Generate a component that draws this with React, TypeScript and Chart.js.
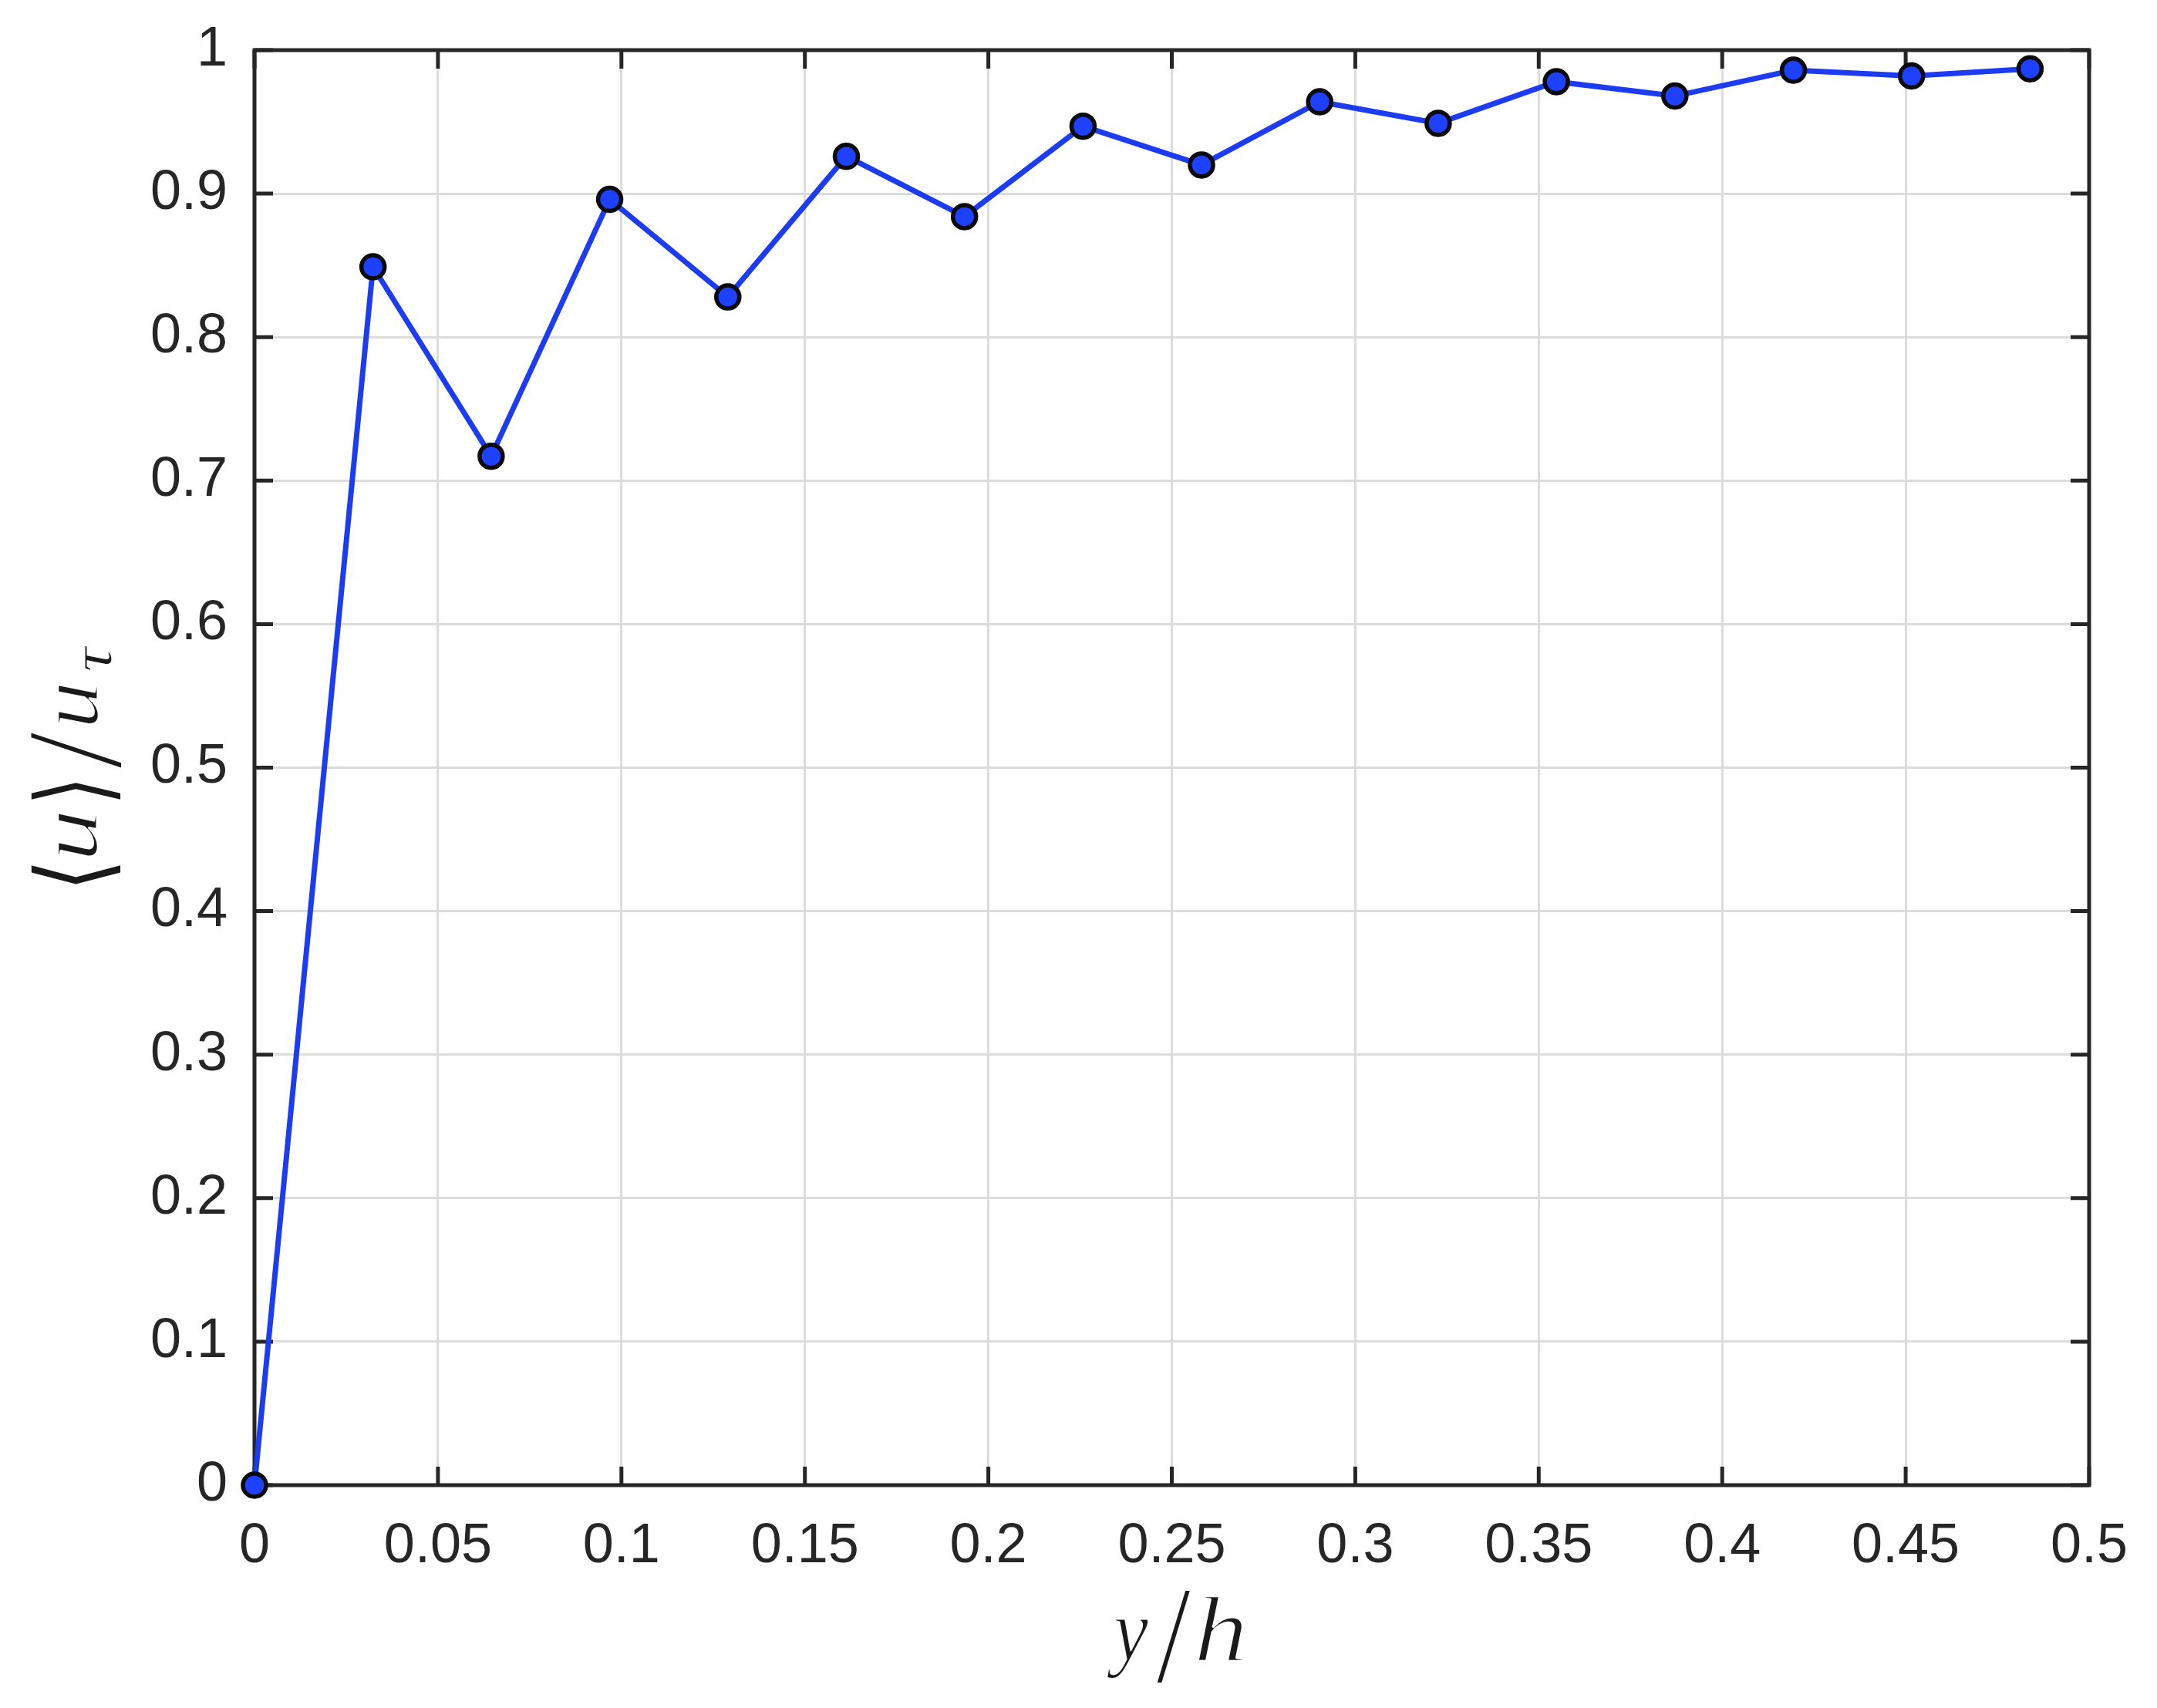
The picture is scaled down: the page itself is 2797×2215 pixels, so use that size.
import React, { useEffect, useRef } from "react";
import { Chart, registerables } from "chart.js";

Chart.register(...registerables);

// ---- data ----
const xValues = [0, 0.0323, 0.0645, 0.0968, 0.129, 0.1613, 0.1935, 0.2258, 0.2581, 0.2903, 0.3226, 0.3548, 0.3871, 0.4194, 0.4516, 0.4839];
const yValues = [0, 0.849, 0.717, 0.896, 0.828, 0.926, 0.884, 0.947, 0.92, 0.964, 0.949, 0.978, 0.968, 0.986, 0.982, 0.987];
const xTicks = [0, 0.05, 0.1, 0.15, 0.2, 0.25, 0.3, 0.35, 0.4, 0.45, 0.5];
const yTicks = [0, 0.1, 0.2, 0.3, 0.4, 0.5, 0.6, 0.7, 0.8, 0.9, 1];

const W = 2797;
const H = 2215;
const AXIS = "#262626";
const LABEL_FONT = "'Liberation Sans', Arial, Helvetica, sans-serif";
const SERIF_IT = "italic 115px 'Liberation Serif', 'DejaVu Serif', serif";
const SYM = "115px 'DejaVu Sans', 'DejaVu Serif', 'Noto Sans', sans-serif";

// draw a glyph so that its ink fits a given box (box in current coords)
function glyphInBox(ctx: CanvasRenderingContext2D, ch: string, font: string, x0: number, x1: number, y0: number, y1: number, thin = 0) {
  ctx.save();
  ctx.font = font;
  ctx.textAlign = "left";
  ctx.textBaseline = "alphabetic";
  const m = ctx.measureText(ch);
  const inkL = -m.actualBoundingBoxLeft;
  const inkR = m.actualBoundingBoxRight;
  const inkT = -m.actualBoundingBoxAscent;
  const inkB = m.actualBoundingBoxDescent;
  const sx = (x1 - x0) / Math.max(1, inkR - inkL);
  const sy = (y1 - y0) / Math.max(1, inkB - inkT);
  ctx.translate(x0, y0);
  ctx.scale(sx, sy);
  ctx.fillStyle = "#1a1a1a";
  ctx.fillText(ch, -inkL, -inkT);
  if (thin > 0) {
    ctx.strokeStyle = "#ffffff";
    ctx.lineWidth = thin;
    ctx.lineJoin = "round";
    ctx.strokeText(ch, -inkL, -inkT);
  }
  ctx.restore();
}

const framePlugin = {
  id: "matlabFrame",
  beforeDatasetsDraw(chart: any) {
    const { ctx, chartArea: a, scales } = chart;
    ctx.save();
    ctx.strokeStyle = AXIS;
    ctx.lineWidth = 5;
    const tl = 24;
    ctx.beginPath();
    for (const v of xTicks) {
      const px = scales.x.getPixelForValue(v);
      ctx.moveTo(px, a.bottom);
      ctx.lineTo(px, a.bottom - tl);
      ctx.moveTo(px, a.top);
      ctx.lineTo(px, a.top + tl);
    }
    for (const v of yTicks) {
      const py = scales.y.getPixelForValue(v);
      ctx.moveTo(a.left, py);
      ctx.lineTo(a.left + tl, py);
      ctx.moveTo(a.right, py);
      ctx.lineTo(a.right - tl, py);
    }
    ctx.stroke();
    ctx.lineJoin = "miter";
    ctx.strokeRect(a.left, a.top, a.right - a.left, a.bottom - a.top);
    ctx.restore();
  },
  afterDraw(chart: any) {
    const { ctx } = chart;
    // x-axis title: y/h
    glyphInBox(ctx, "y", SERIF_IT, 1435, 1490, 2100, 2177, 2);
    glyphInBox(ctx, "/", SERIF_IT, 1500, 1543, 2063, 2182);
    glyphInBox(ctx, "h", SERIF_IT, 1553, 1613, 2070, 2154, 2.5);
    // y-axis title: <u>/u_tau (rotated)
    ctx.save();
    ctx.rotate(-Math.PI / 2);
    const box = (ch: string, font: string, X0: number, X1: number, Y0: number, Y1: number, thin = 0) =>
      glyphInBox(ctx, ch, font, -Y1, -Y0, X0, X1, thin);
    box("\u27E8", SYM, 40, 157, 1122, 1147);
    box("u", SERIF_IT, 75, 127, 1053, 1112, 2.5);
    box("\u27E9", SYM, 40, 157, 1015, 1037);
    box("/", SERIF_IT, 40, 157, 950, 996);
    box("u", SERIF_IT, 75, 128, 887, 940, 2.5);
    box("\u03C4", SERIF_IT, 110, 145, 837, 870, 1.5);
    ctx.restore();
  },
};

export default function App() {
  const ref = useRef<HTMLCanvasElement | null>(null);
  useEffect(() => {
    if (!ref.current) return;
    const chart = new Chart(ref.current, {
      type: "line",
      data: {
        datasets: [
          {
            data: xValues.map((x, i) => ({ x, y: yValues[i] })),
            borderColor: "#1c3cf2",
            borderWidth: 7,
            pointRadius: 15,
            pointBorderWidth: 5.5,
            pointBorderColor: "#0a0a0a",
            pointBackgroundColor: "#1e40ff",
            tension: 0,
            clip: false as any,
          },
        ],
      },
      options: {
        responsive: false,
        animation: false,
        devicePixelRatio: 1,
        layout: { padding: { left: 0, top: 65, right: 88, bottom: 0 } },
        plugins: { legend: { display: false }, tooltip: { enabled: false } },
        scales: {
          x: {
            type: "linear",
            min: 0,
            max: 0.5,
            afterBuildTicks: (s: any) => {
              s.ticks = xTicks.map((v) => ({ value: v }));
            },
            afterFit: (s: any) => {
              s.height = 289;
              s.paddingLeft = 0;
              s.paddingRight = 0;
            },
            grid: { color: "#dcdcdc", lineWidth: 3, drawTicks: false },
            border: { display: false },
            ticks: {
              padding: 37,
              color: AXIS,
              maxRotation: 0,
              autoSkip: false,
              font: { family: LABEL_FONT, size: 72 },
              callback: (v: any) => String(v),
            },
          },
          y: {
            type: "linear",
            min: 0,
            max: 1,
            afterBuildTicks: (s: any) => {
              s.ticks = yTicks.map((v) => ({ value: v }));
            },
            afterFit: (s: any) => {
              s.width = 330;
              s.paddingTop = 0;
              s.paddingBottom = 0;
            },
            grid: { color: "#dcdcdc", lineWidth: 3, drawTicks: false },
            border: { display: false },
            ticks: {
              padding: 35,
              color: AXIS,
              autoSkip: false,
              font: { family: LABEL_FONT, size: 72 },
              callback: (v: any) => String(v),
            },
          },
        },
      },
      plugins: [framePlugin],
    } as any);
    return () => chart.destroy();
  }, []);
  return (
    <div style={{ position: "fixed", left: 0, top: 0, width: W, height: H, background: "#fff" }}>
      <canvas ref={ref} width={W} height={H} style={{ display: "block" }} />
    </div>
  );
}
